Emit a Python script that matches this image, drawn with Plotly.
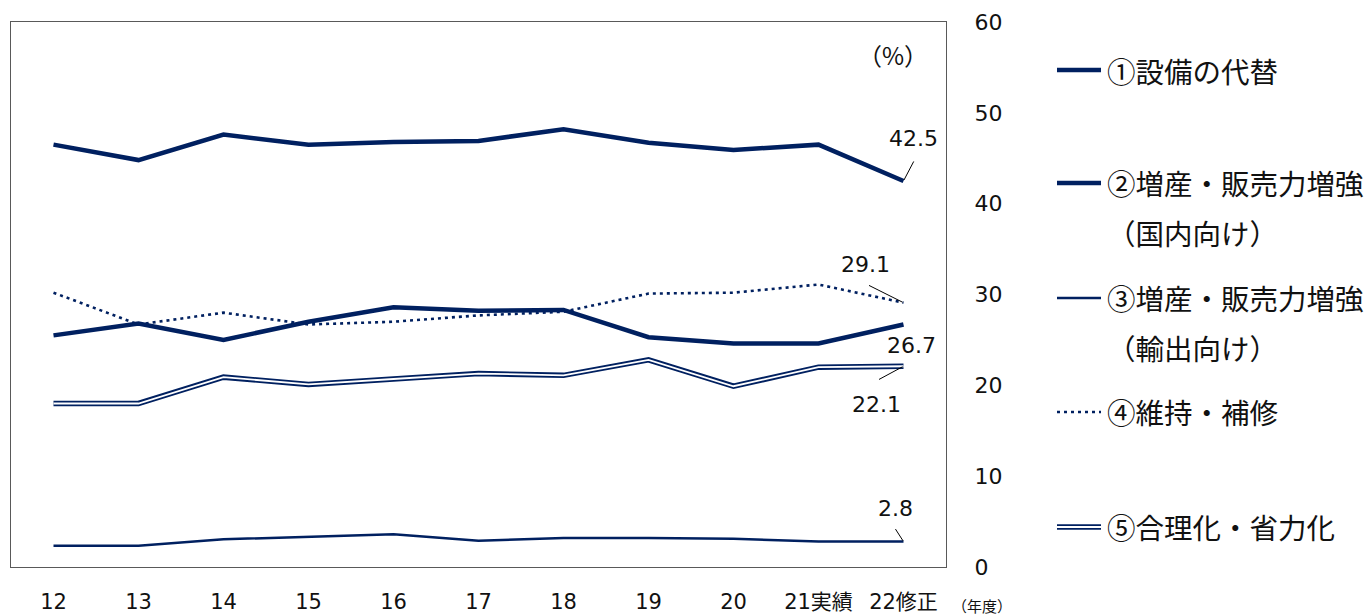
import plotly.graph_objects as go

# ---- data ----
years = ["12", "13", "14", "15", "16", "17", "18", "19", "20", "21実績", "22修正"]
s1_replacement = [46.5, 44.8, 47.6, 46.5, 46.8, 46.9, 48.2, 46.7, 45.9, 46.5, 42.5]
s2_domestic = [25.5, 26.8, 25.0, 27.0, 28.6, 28.2, 28.3, 25.3, 24.6, 24.6, 26.7]
s3_export = [2.35, 2.35, 3.05, 3.3, 3.6, 2.9, 3.2, 3.2, 3.1, 2.8, 2.8]
s4_maintenance = [30.2, 26.7, 28.0, 26.7, 27.0, 27.7, 28.1, 30.1, 30.2, 31.1, 29.1]
s5_rationalization = [18.0, 18.0, 20.9, 20.1, 20.7, 21.3, 21.1, 22.8, 19.9, 22.0, 22.1]
y_ticks = [0, 10, 20, 30, 40, 50, 60]
legend_labels = ["①設備の代替", "②増産・販売力増強", "（国内向け）", "③増産・販売力増強",
                 "（輸出向け）", "④維持・補修", "⑤合理化・省力化"]

# ---- layout constants ----
W, H = 1369, 615
L, R, T, B = 11, 946, 22, 567
NAVY = "#002060"
TXT = "#111111"
NUMFONT = "DejaVu Sans, Noto Sans CJK JP"
JPFONT = "Noto Sans CJK JP, DejaVu Sans"


def px2paper(px, py):
    return (px - L) / (R - L), (B - py) / (B - T)


fig = go.Figure()

# double line (rationalization)
fig.add_trace(go.Scatter(x=years, y=s5_rationalization, mode="lines",
                         line=dict(color=NAVY, width=5.5), showlegend=False, hoverinfo="skip"))
fig.add_trace(go.Scatter(x=years, y=s5_rationalization, mode="lines",
                         line=dict(color="white", width=1.8), showlegend=False, hoverinfo="skip"))
# maintenance (dotted)
fig.add_trace(go.Scatter(x=years, y=s4_maintenance, mode="lines",
                         line=dict(color=NAVY, width=2.6, dash="3px,4px"), showlegend=False))
# export (thin)
fig.add_trace(go.Scatter(x=years, y=s3_export, mode="lines",
                         line=dict(color=NAVY, width=2.5), showlegend=False))
# domestic (thick)
fig.add_trace(go.Scatter(x=years, y=s2_domestic, mode="lines",
                         line=dict(color=NAVY, width=4.5), showlegend=False))
# replacement (thick)
fig.add_trace(go.Scatter(x=years, y=s1_replacement, mode="lines",
                         line=dict(color=NAVY, width=4.5), showlegend=False))

annotations = []
last = years[-1]
# data labels: (series, xshift, yshift, leader ax, leader ay)
label_specs = [
    (s1_replacement, 10, 42, 11, -21),
    (s4_maintenance, -38, 38, -36, -18),
    (s2_domestic, 8, -21, None, None),
    (s5_rationalization, -27, -38, -26, 14),
    (s3_export, -8, 33, -9, -14),
]
for series, xs, ys, ax, ay in label_specs:
    v = series[-1]
    annotations.append(dict(x=last, y=v, xref="x", yref="y", text=f"{v:.1f}",
                            showarrow=False, xshift=xs, yshift=ys,
                            font=dict(family=NUMFONT, size=22, color=TXT)))
    if ax is not None:
        annotations.append(dict(x=last, y=v, xref="x", yref="y", text="",
                                showarrow=True, arrowhead=0, arrowwidth=1,
                                arrowcolor="#000000", ax=ax, ay=ay, standoff=1))

# (%) label
px_, py_ = px2paper(893, 54)
annotations.append(dict(x=px_, y=py_, xref="paper", yref="paper", text="（%）",
                        xanchor="center", yanchor="middle", showarrow=False,
                        font=dict(family=JPFONT, size=24, color=TXT)))
# (年度) label
px_, py_ = px2paper(982, 605)
annotations.append(dict(x=px_, y=py_, xref="paper", yref="paper", text="（年度）",
                        xanchor="center", yanchor="middle", showarrow=False,
                        font=dict(family=JPFONT, size=15, color=TXT)))

# legend (manual)
legend_text_y = [70, 183, 233, 297, 347, 411, 526]
for lab, ty in zip(legend_labels, legend_text_y):
    px_, py_ = px2paper(1105, ty)
    annotations.append(dict(x=px_, y=py_, xref="paper", yref="paper", text=lab,
                            xanchor="left", yanchor="middle", showarrow=False,
                            font=dict(family=JPFONT, size=28.5, color=TXT)))

shapes = []
x0p, _ = px2paper(1057, 0)
x1p, _ = px2paper(1101, 0)
legend_line_styles = [
    (70, dict(color=NAVY, width=4.5)),
    (183, dict(color=NAVY, width=4.5)),
    (298, dict(color=NAVY, width=2.5)),
    (412, dict(color=NAVY, width=2.6, dash="3px,4px")),
    (527, dict(color=NAVY, width=5.5)),
    (527, dict(color="white", width=1.8)),
]
for ly, st in legend_line_styles:
    _, yp = px2paper(0, ly)
    shapes.append(dict(type="line", xref="paper", yref="paper", x0=x0p, x1=x1p,
                       y0=yp, y1=yp, line=st))

fig.update_layout(
    width=W, height=H,
    margin=dict(l=L, r=W - R, t=T, b=H - B, pad=0, autoexpand=False),
    paper_bgcolor="white", plot_bgcolor="white",
    annotations=annotations, shapes=shapes,
    showlegend=False,
    xaxis=dict(type="category", range=[-0.5, len(years) - 0.5], tickvals=years,
               ticktext=years, showgrid=False, zeroline=False, automargin=False,
               showline=True, mirror=True, linecolor="#595959", linewidth=1,
               ticks="", ticklabelstandoff=16,
               tickfont=dict(family=NUMFONT, size=21, color=TXT)),
    yaxis=dict(range=[0, 60], tickvals=y_ticks, side="right", showgrid=False,
               zeroline=False, showline=True, mirror=True, linecolor="#595959",
               linewidth=1, ticks="", ticklabelstandoff=23, automargin=False,
               tickfont=dict(family=NUMFONT, size=22, color=TXT)),
)

fig.write_html("out.html", config={"displayModeBar": False},
               post_script="document.body.style.margin='0';")
